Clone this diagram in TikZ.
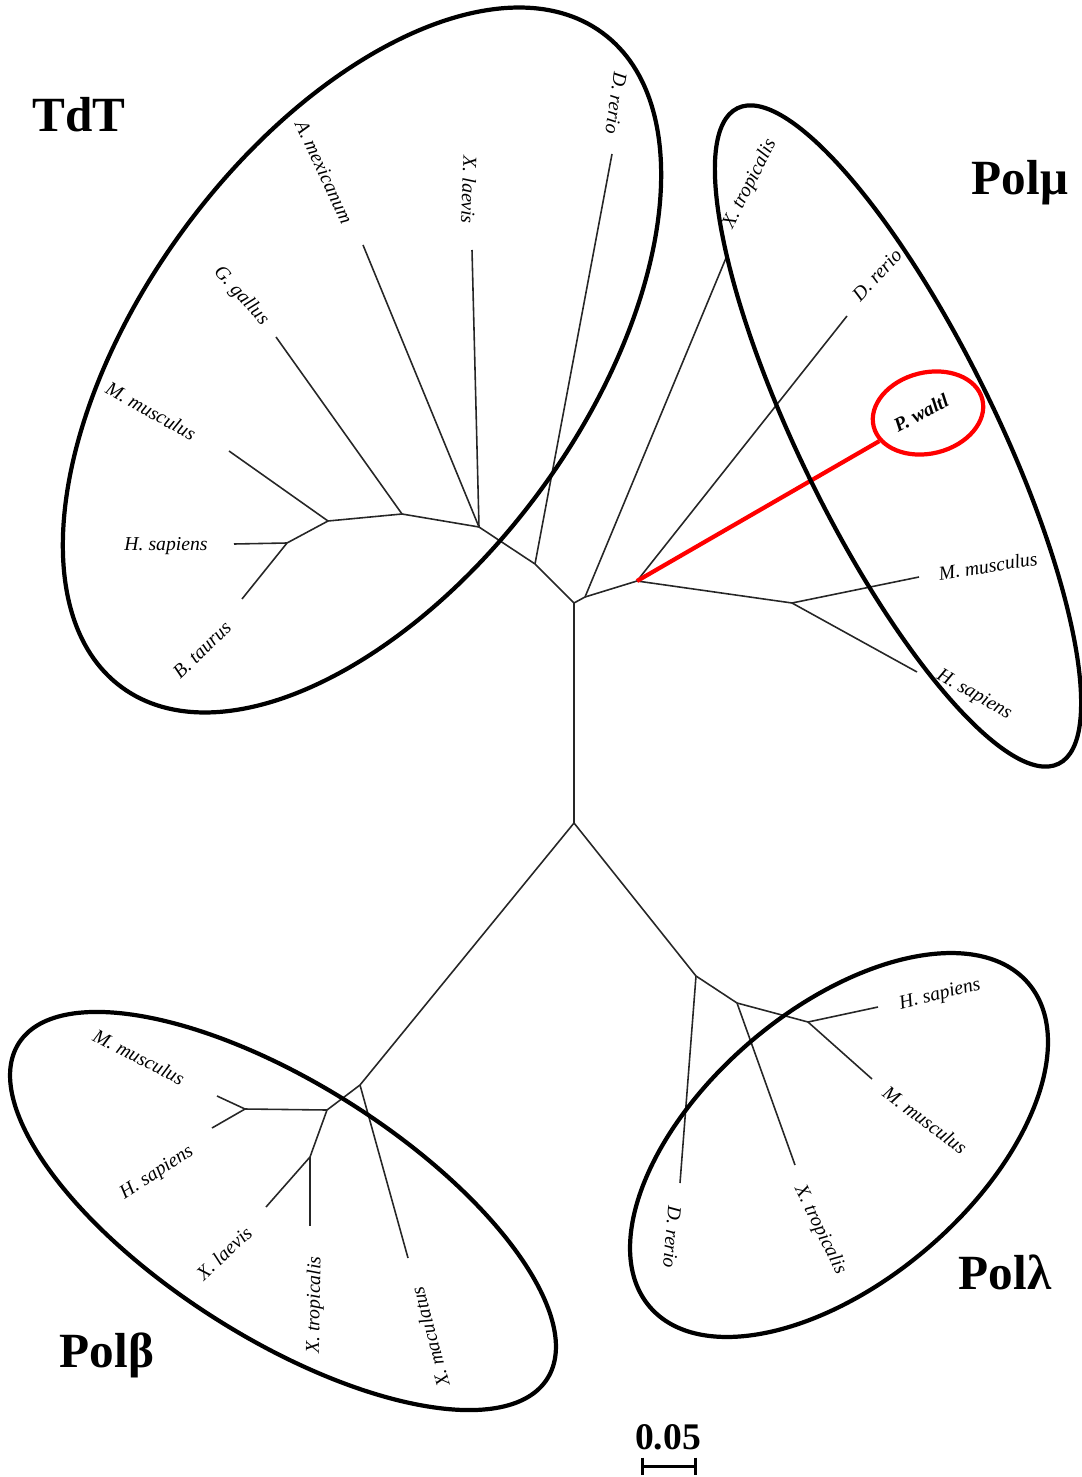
\documentclass[tikz,border=0pt]{standalone}
\usepackage{fontspec}
\setmainfont{Liberation Serif}
\usetikzlibrary{shapes.geometric}
\definecolor{mRed}{HTML}{FF0000}
\definecolor{mBranch}{HTML}{262626}

\begin{document}
\begin{tikzpicture}[x=0.1mm, y=-0.1mm,
    branch/.style={mBranch, line width=0.45pt},
    clade/.style={black, line width=1.2pt},
    taxon/.style={font=\fontsize{5.6}{6}\selectfont\itshape, inner sep=0pt},
    group/.style={font=\fontsize{14}{16}\selectfont\bfseries, inner sep=0pt}]
    \useasboundingbox (0,0) rectangle (1081,1477);

    % backbone
    \coordinate (rTop) at (574,603);
    \coordinate (rBot) at (574,823);
    % TdT
    \coordinate (t1) at (535,564);
    \coordinate (t2) at (479,527);
    \coordinate (t3) at (402,514);
    \coordinate (t4) at (328,521);
    \coordinate (t5) at (287,543);
    \coordinate (tDre) at (612,154);
    \coordinate (tXla) at (472,250);
    \coordinate (tAme) at (363,245);
    \coordinate (tGga) at (276,337);
    \coordinate (tMmu) at (229,451);
    \coordinate (tHsa) at (234,544);
    \coordinate (tBta) at (242,599);
    % Pol mu
    \coordinate (m1) at (585,597);
    \coordinate (m2) at (637,581);
    \coordinate (m3) at (792,603);
    \coordinate (mXtr) at (726,258);
    \coordinate (mDre) at (847,316);
    \coordinate (mMmu) at (919,577);
    \coordinate (mHsa) at (917,672);
    % Pol beta
    \coordinate (b1) at (360,1085);
    \coordinate (b2) at (327,1110);
    \coordinate (b3) at (245,1109);
    \coordinate (b4) at (310,1157);
    \coordinate (bXma) at (408,1258);
    \coordinate (bMmu) at (217,1096);
    \coordinate (bHsa) at (212,1128);
    \coordinate (bXla) at (266,1207);
    \coordinate (bXtr) at (310,1226);
    % Pol lambda
    \coordinate (l1) at (696,976);
    \coordinate (l2) at (737,1003);
    \coordinate (l3) at (808,1022);
    \coordinate (lDre) at (680,1183);
    \coordinate (lXtr) at (795,1165);
    \coordinate (lHsa) at (878,1007);
    \coordinate (lMmu) at (872,1079);

    \foreach \a/\b in {rTop/rBot, rTop/t1, t1/tDre, t1/t2, t2/tXla, t2/tAme,
        t2/t3, t3/tGga, t3/t4, t4/tMmu, t4/t5, t5/tHsa, t5/tBta,
        rTop/m1, m1/mXtr, m1/m2, m2/mDre, m2/m3, m3/mMmu, m3/mHsa,
        rBot/b1, b1/bXma, b1/b2, b2/b3, b3/bMmu, b3/bHsa, b2/b4, b4/bXla, b4/bXtr,
        rBot/l1, l1/lDre, l1/l2, l2/lXtr, l2/l3, l3/lHsa, l3/lMmu}
        \draw[branch] (\a) -- (\b);

    % taxa
    \node[taxon, rotate=-98] (lbTDre) at (616,103) {D. rerio};
    \node[taxon, rotate=-92] (lbTXla) at (469,190) {X. laevis};
    \node[taxon, rotate=-65] (lbTAme) at (324,172) {A. mexicanum};
    \node[taxon, rotate=-48] (lbTGga) at (241,296) {G. gallus};
    \node[taxon, rotate=-29] (lbTMmu) at (151,411) {M. musculus};
    \node[taxon] (lbTHsa) at (166,546) {H. sapiens};
    \node[taxon, rotate=44] (lbTBta) at (202,650) {B. taurus};

    \node[taxon, rotate=63] (lbMXtr) at (750,184) {X. tropicalis};
    \node[taxon, rotate=47] (lbMDre) at (877,275) {D. rerio};
    \node[taxon, rotate=9] (lbMMmu) at (988,566) {M. musculus};
    \node[taxon, rotate=-30] (lbMHsa) at (974,695) {H. sapiens};

    \node[taxon, rotate=-27] (lbBMmu) at (139,1057) {M. musculus};
    \node[taxon, rotate=33] (lbBHsa) at (157,1173) {H. sapiens};
    \node[taxon, rotate=43] (lbBXla) at (224,1253) {X. laevis};
    \node[taxon, rotate=89] (lbBXtr) at (315,1305) {X. tropicalis};
    \node[taxon, rotate=105] (lbBXma) at (430,1337) {X. maculatus};

    \node[taxon, rotate=14] (lbLHsa) at (940,995) {H. sapiens};
    \node[taxon, rotate=-37] (lbLMmu) at (925,1120) {M. musculus};
    \node[taxon, rotate=-95] (lbLDre) at (672,1237) {D. rerio};
    \node[taxon, rotate=-64] (lbLXtr) at (820,1230) {X. tropicalis};

    % highlighted taxon
    \node[ellipse, draw=mRed, line width=1.2pt, inner sep=0pt,
          minimum width=11.2mm, minimum height=8.1mm, rotate=14] (waltlRing) at (928,413) {};
    \node[taxon, rotate=28] (lbWaltl) at (921,413) {\bfseries P. waltl};
    \draw[mRed, line width=1.2pt] (m2) -- (waltlRing);

    % clades
    \draw[clade, rotate around={53.7:(362,360)}] (362,360) ellipse [x radius=406, y radius=221];
    \draw[clade, rotate around={-63.9:(898,436)}] (898,436) ellipse [x radius=365, y radius=98];
    \draw[clade, rotate around={-32.4:(283,1211)}] (283,1211) ellipse [x radius=313, y radius=127];
    \draw[clade, rotate around={40.5:(839,1145)}] (839,1145) ellipse [x radius=249, y radius=136];

    \node[group] (tdt) at (79,115) {TdT};
    \node[group] (polMu) at (1020,183) {Polμ};
    \node[group] (polBeta) at (107,1355) {Polβ};
    \node[group] (polLambda) at (1005,1272) {Polλ};

    % scale bar
    \node[font=\fontsize{10.7}{12}\selectfont\bfseries, inner sep=0pt] (scaleLbl) at (668,1437) {0.05};
    \coordinate (sL) at (642,1466);
    \coordinate (sR) at (695,1466);
    \draw[line width=0.85pt] (sL) -- (sR);
    \draw[line width=0.85pt] ([yshift=0.85mm]sL) -- ([yshift=-0.85mm]sL);
    \draw[line width=0.85pt] ([yshift=0.85mm]sR) -- ([yshift=-0.85mm]sR);
\end{tikzpicture}
\end{document}
